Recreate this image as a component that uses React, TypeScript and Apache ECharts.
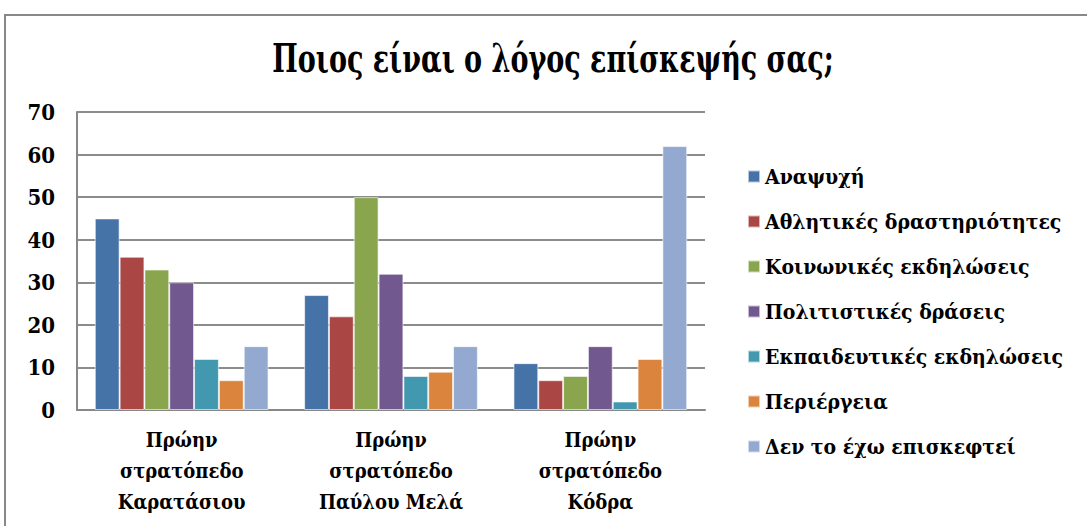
import React, { useEffect, useRef } from "react";
import * as echarts from "echarts";

const titleText = "Ποιος είναι ο λόγος επίσκεψής σας;";
const categories = [
  "Πρώην\nστρατόπεδο\nΚαρατάσιου",
  "Πρώην\nστρατόπεδο\nΠαύλου Μελά",
  "Πρώην\nστρατόπεδο\nΚόδρα",
];
const seriesNames = [
  "Αναψυχή",
  "Αθλητικές δραστηριότητες",
  "Κοινωνικές εκδηλώσεις",
  "Πολιτιστικές δράσεις",
  "Εκπαιδευτικές εκδηλώσεις",
  "Περιέργεια",
  "Δεν το έχω επισκεφτεί",
];
const anapsyxi = [45, 27, 11];
const athlitikes = [36, 22, 7];
const koinonikes = [33, 50, 8];
const politistikes = [30, 32, 15];
const ekpaideftikes = [12, 8, 2];
const periergeia = [7, 9, 12];
const denEpiskeftei = [15, 15, 62];
const seriesValues = [anapsyxi, athlitikes, koinonikes, politistikes, ekpaideftikes, periergeia, denEpiskeftei];
const colors = ["#4572A7", "#AA4643", "#89A54E", "#71588F", "#4198AF", "#DB843D", "#93A9CF"];

const FONT = "'DejaVu Serif Condensed', 'DejaVu Serif', serif";

export default function App() {
  const ref = useRef<HTMLDivElement>(null);
  useEffect(() => {
    if (!ref.current) return;
    const chart = echarts.init(ref.current, null, { renderer: "svg" });
    chart.setOption({
      animation: false,
      backgroundColor: "#ffffff",
      color: colors,
      graphic: [
        {
          type: "rect",
          shape: { x: 5, y: 15, width: 1100, height: 600 },
          style: { fill: "none", stroke: "#888888", lineWidth: 2 },
          silent: true,
        },
        {
          type: "text",
          x: 553,
          y: 58,
          scaleX: 1,
          scaleY: 1.3,
          style: {
            text: titleText,
            fontFamily: FONT,
            fontWeight: "bold",
            fontSize: 30,
            fill: "#000",
            align: "center",
            verticalAlign: "middle",
          },
        },
      ],
      legend: {
        orient: "vertical",
        left: 742,
        top: 160,
        itemWidth: 12,
        itemHeight: 12,
        itemGap: 22,
        icon: "rect",
        textStyle: { fontFamily: FONT, fontWeight: "bold", fontSize: 21, color: "#000", lineHeight: 23 },
        data: seriesNames,
      },
      grid: { left: 77, top: 112, width: 628, height: 298, containLabel: false },
      xAxis: {
        type: "category",
        data: categories,
        axisLine: { lineStyle: { color: "#888888", width: 2 } },
        axisTick: { show: false },
        axisLabel: {
          interval: 0,
          margin: 14,
          fontFamily: FONT,
          fontWeight: "bold",
          fontSize: 20,
          lineHeight: 31,
          color: "#000",
        },
      },
      yAxis: {
        type: "value",
        min: 0,
        max: 70,
        interval: 10,
        axisLine: { show: true, lineStyle: { color: "#888888", width: 2 } },
        axisTick: { show: false },
        splitLine: { lineStyle: { color: "#8c8c8c", width: 2 } },
        axisLabel: {
          margin: 22,
          fontFamily: FONT,
          fontWeight: "bold",
          fontSize: 22,
          color: "#000",
        },
      },
      series: seriesNames.map((name, i) => ({
        name,
        type: "bar",
        data: seriesValues[i],
        barGap: "0%",
        barCategoryGap: "17%",
        itemStyle: { color: colors[i], borderColor: "rgba(255,255,255,0.6)", borderWidth: 1 },
      })),
    });
    return () => chart.dispose();
  }, []);
  return (
    <div
      ref={ref}
      style={{ position: "absolute", left: 0, top: 0, width: 1087, height: 526 }}
    />
  );
}
